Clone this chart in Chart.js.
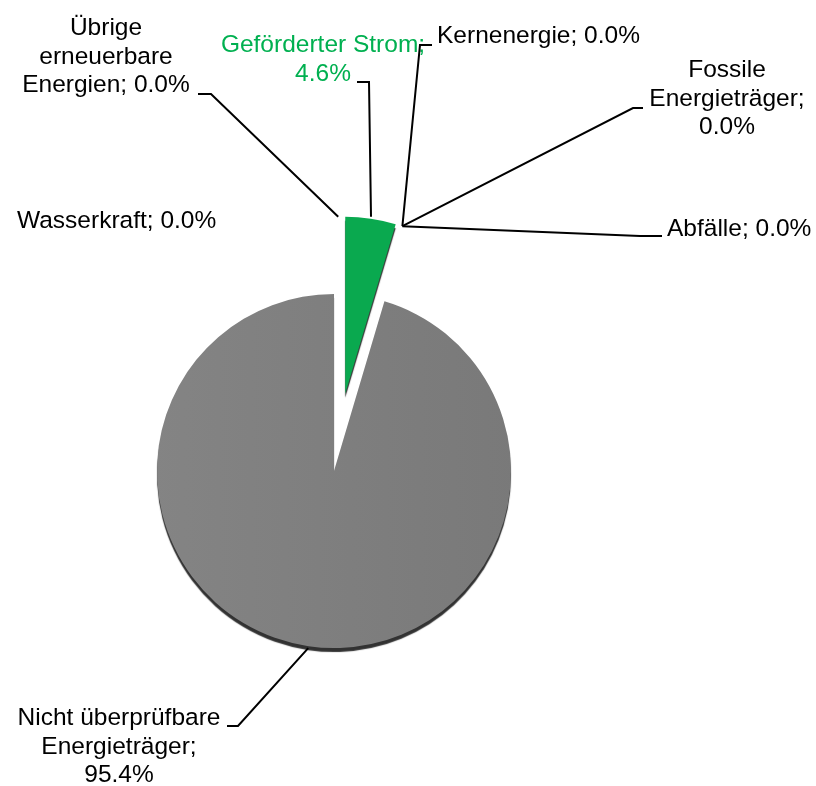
<!DOCTYPE html>
<html>
<head>
<meta charset="utf-8">
<script src="https://cdn.jsdelivr.net/npm/chart.js@4.4.1/dist/chart.umd.min.js"></script>
<style>
    html, body { margin: 0; padding: 0; background: #fff; }
    canvas { display: block; }
</style>
</head>
<body>
<canvas id="pie" width="816" height="786"></canvas>
<script>
// Slices in drawing order, clockwise from 12 o'clock
const categories = [
    'Geförderter Strom',
    'Kernenergie',
    'Fossile Energieträger',
    'Abfälle',
    'Nicht überprüfbare Energieträger',
    'Wasserkraft',
    'Übrige erneuerbare Energien'
];
const shares = [4.6, 0.0, 0.0, 0.0, 95.4, 0.0, 0.0];
const sliceColors = ['#0AA94F', '#7F7F7F', '#7F7F7F', '#7F7F7F', '#7F7F7F', '#7F7F7F', '#7F7F7F'];
const explode = [78, 0, 0, 0, 0, 0, 0]; // px a slice is pulled out

// Label placement: wrap = words per line, own = value on its own line
const labelLayout = [
    { x: 323, y: 52, align: 'center', wrap: [2], own: true, color: '#00B050', tail: [357, 82], elbow: [369, 82] },
    { x: 437, y: 43, align: 'left', wrap: [1], own: false, tail: [432, 45], elbow: [420, 45] },
    { x: 727, y: 77, align: 'center', wrap: [1, 1], own: true, tail: [643, 108], elbow: [633, 108] },
    { x: 667, y: 236, align: 'left', wrap: [1], own: false, tail: [662, 236], elbow: [640, 236] },
    { x: 119, y: 725, align: 'center', wrap: [2, 1], own: true, tail: [227, 726], elbow: [238, 726] },
    { x: 17, y: 228, align: 'left', wrap: [1], own: false },
    { x: 106, y: 35, align: 'center', wrap: [1, 1, 1], own: false, tail: [198, 94], elbow: [211, 94] }
];

function labelLines(i) {
    const words = categories[i].split(' ');
    const value = shares[i].toFixed(1) + '%';
    const lay = labelLayout[i];
    const lines = [];
    let k = 0;
    lay.wrap.forEach(n => {
        lines.push(words.slice(k, k + n).join(' '));
        k += n;
    });
    if (lay.own) {
        lines[lines.length - 1] += ';';
        lines.push(value);
    } else {
        lines[lines.length - 1] += '; ' + value;
    }
    return lines;
}

// pull slices out along their mid angle (Chart.js' own offset narrows thin slices)
const explodeSlices = {
    id: 'explodeSlices',
    afterUpdate(chart) {
        chart.getDatasetMeta(0).data.forEach((arc, i) => {
            const mid = (arc.startAngle + arc.endAngle) / 2;
            arc.x += Math.cos(mid) * explode[i];
            arc.y += Math.sin(mid) * explode[i];
        });
    }
};

// 3D rim under the pie
const pieShadow = {
    id: 'pieShadow',
    beforeDatasetsDraw(chart) {
        const ctx = chart.ctx;
        ctx.save();
        ctx.shadowColor = 'rgba(50,50,50,1)';
        ctx.shadowOffsetY = 4;
        ctx.shadowBlur = 1;
    },
    afterDatasetsDraw(chart) {
        chart.ctx.restore();
    }
};

const pieLabels = {
    id: 'pieLabels',
    afterDraw(chart) {
        const ctx = chart.ctx;
        const meta = chart.getDatasetMeta(0);
        const R = meta.controller.outerRadius;
        const big = explode.indexOf(Math.max(...explode));
        const ex = meta.data[big];
        const norm = a => ((a % (2 * Math.PI)) + 2 * Math.PI) % (2 * Math.PI);
        ctx.save();
        ctx.font = '24.5px "Liberation Sans", Arial, sans-serif';
        ctx.textBaseline = 'alphabetic';
        categories.forEach((c, i) => {
            const lay = labelLayout[i];
            const arc = meta.data[i];
            if (lay.tail) {
                let ax, ay;
                if (shares[i] > 0) {
                    const mid = (arc.startAngle + arc.endAngle) / 2;
                    ax = arc.x + Math.cos(mid) * (R + 2);
                    ay = arc.y + Math.sin(mid) * (R + 2);
                } else {
                    // empty slices sit at a corner of the pulled-out slice
                    const a = arc.startAngle;
                    const side = Math.abs(norm(a) - norm(ex.endAngle)) < 1e-6 ? 1 : -1;
                    const p = a + side * Math.PI / 2;
                    ax = ex.x + Math.cos(a) * R + Math.cos(p) * 7;
                    ay = ex.y + Math.sin(a) * R + Math.sin(p) * 7;
                }
                ctx.strokeStyle = '#000';
                ctx.lineWidth = 2;
                ctx.beginPath();
                ctx.moveTo(lay.tail[0], lay.tail[1]);
                ctx.lineTo(lay.elbow[0], lay.elbow[1]);
                ctx.lineTo(ax, ay);
                ctx.stroke();
            }
            ctx.fillStyle = lay.color || '#000';
            ctx.textAlign = lay.align;
            labelLines(i).forEach((line, j) => {
                ctx.fillText(line, lay.x, lay.y + j * 28.7);
            });
        });
        ctx.restore();
    }
};

new Chart(document.getElementById('pie'), {
    type: 'pie',
    data: {
        labels: categories,
        datasets: [{
            data: shares,
            backgroundColor: (c) => {
                const area = c.chart.chartArea;
                if (c.dataIndex !== 4 || !area) return sliceColors[c.dataIndex];
                const g = c.chart.ctx.createLinearGradient(150, 0, 520, 0);
                g.addColorStop(0, '#848484');
                g.addColorStop(1, '#797979');
                return g;
            },
            borderWidth: 0
        }]
    },
    options: {
        responsive: false,
        animation: false,
        radius: 177,
        layout: { padding: { left: 0, right: 148, top: 156, bottom: 0 } },
        plugins: {
            legend: { display: false },
            tooltip: { enabled: false }
        }
    },
    plugins: [explodeSlices, pieShadow, pieLabels]
});
</script>
</body>
</html>
